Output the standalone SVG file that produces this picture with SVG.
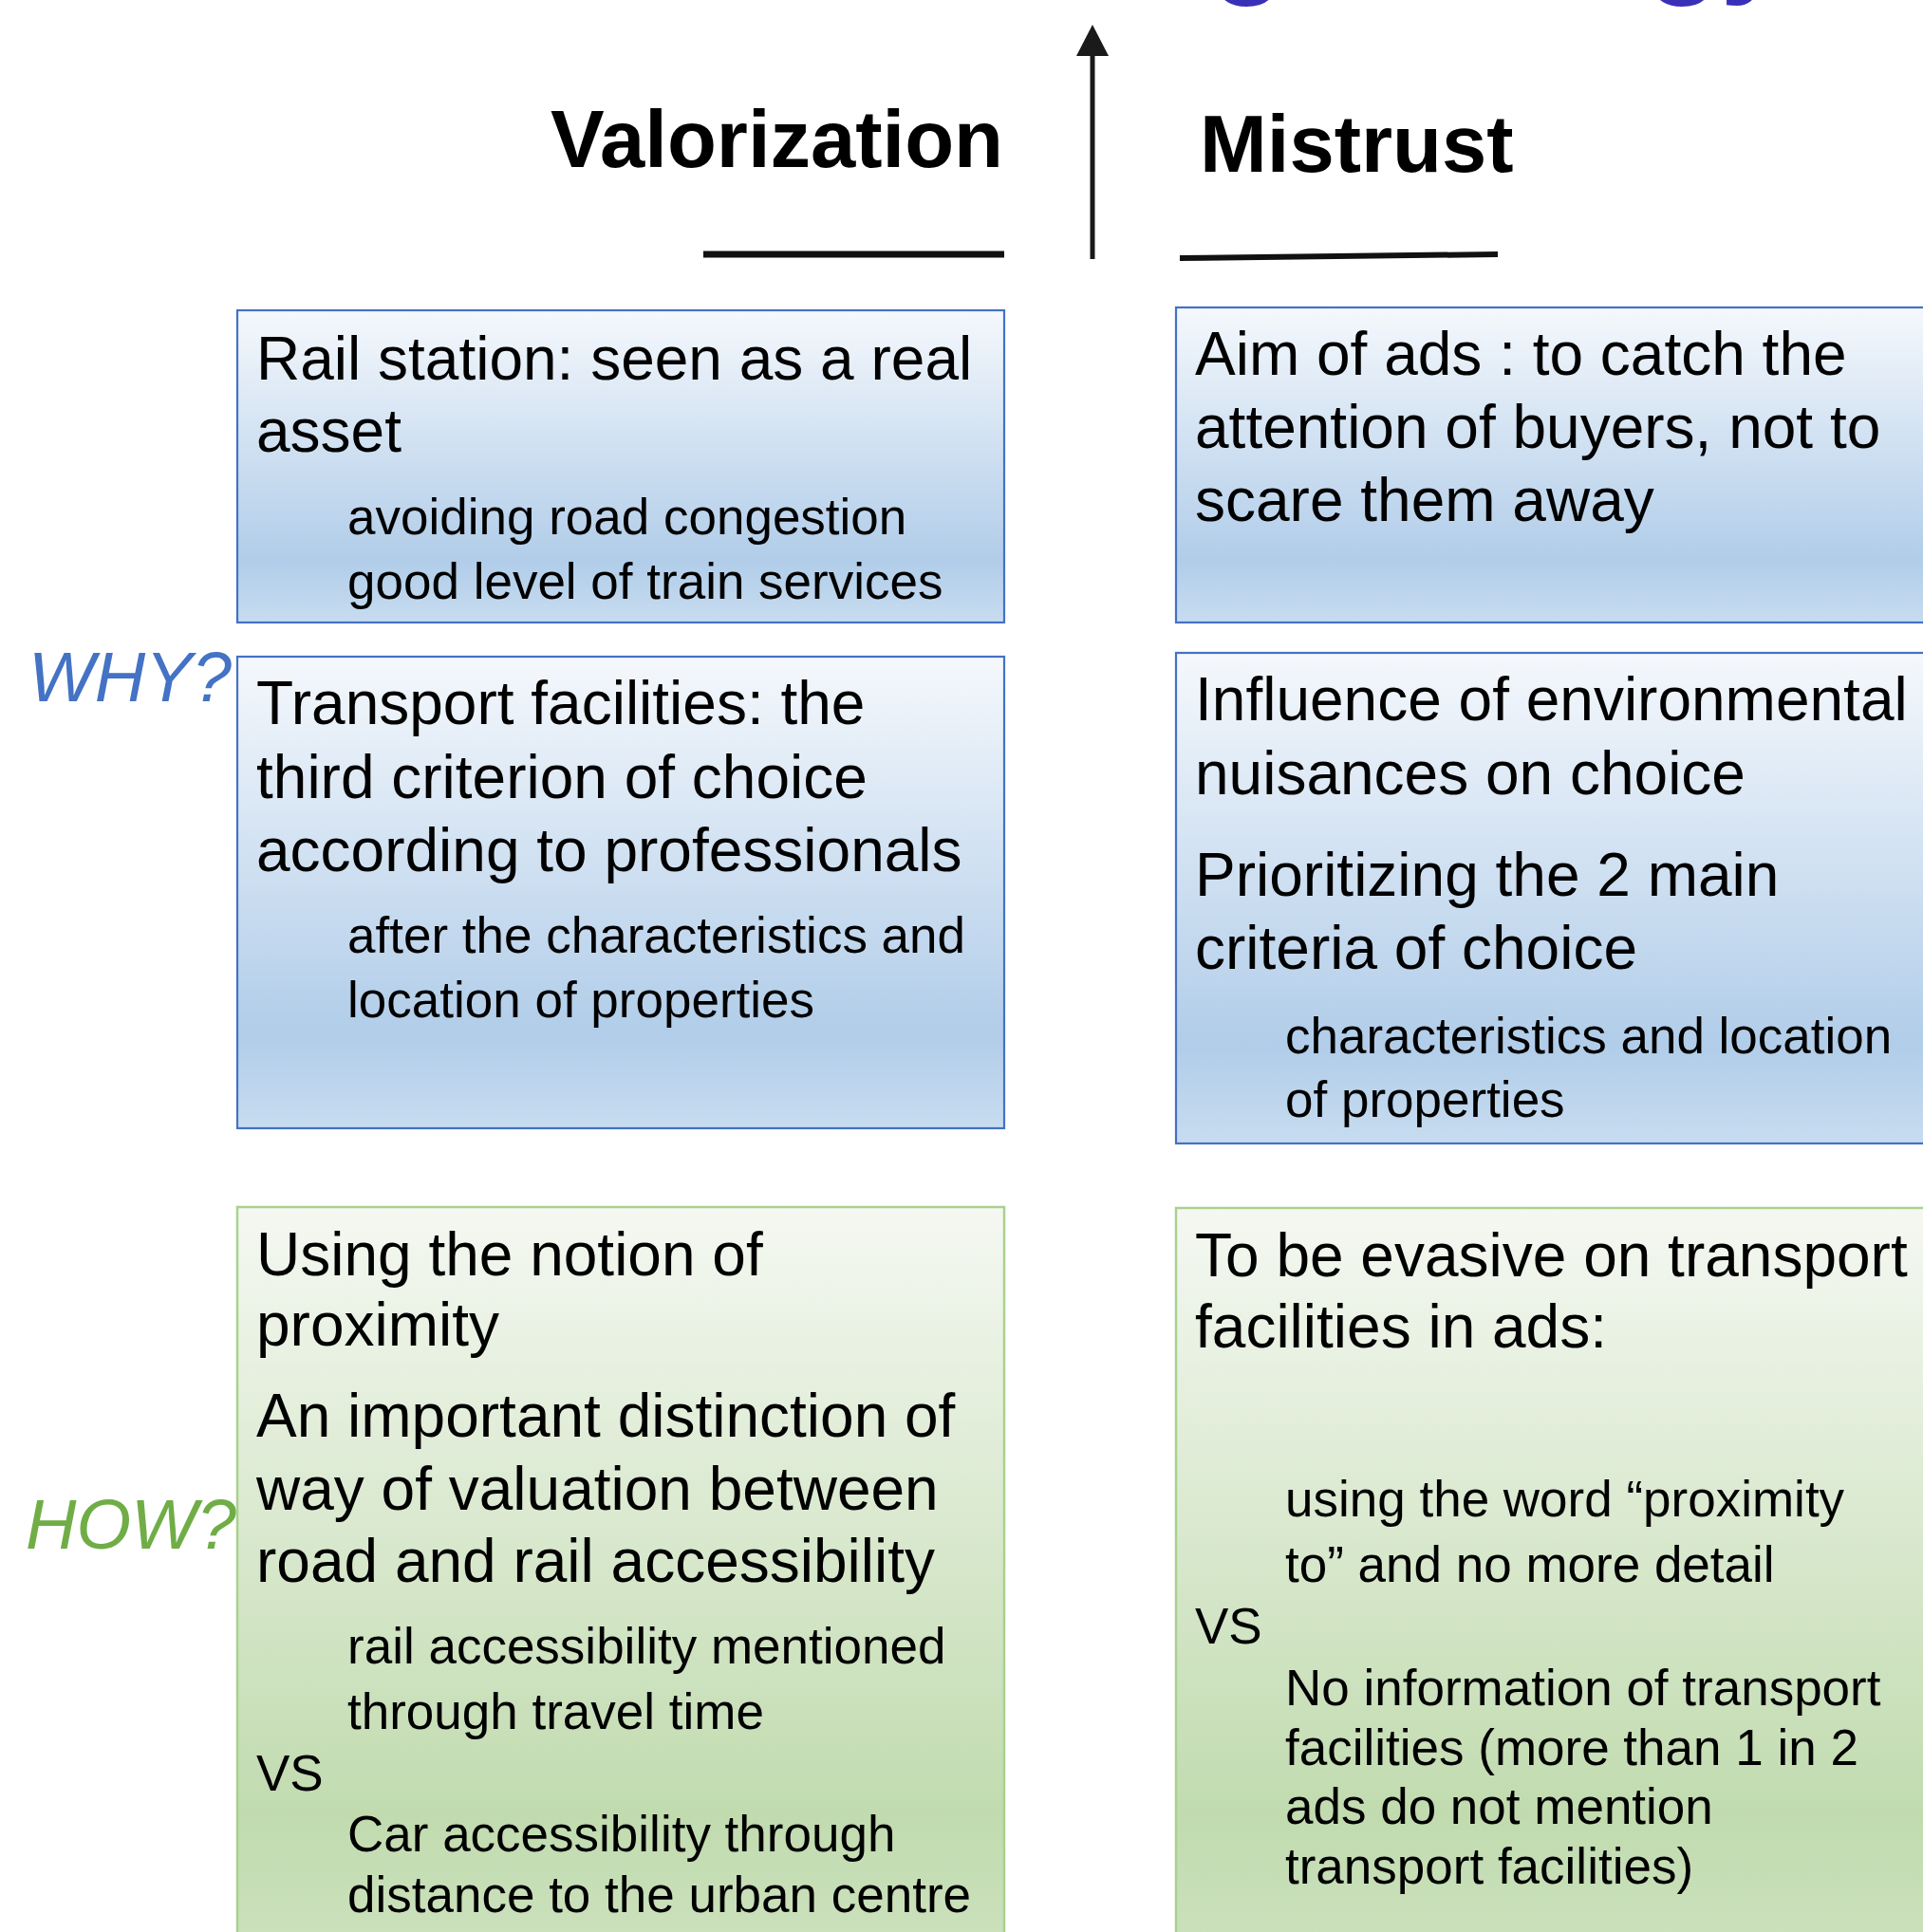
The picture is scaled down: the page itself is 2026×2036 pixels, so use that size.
<svg xmlns="http://www.w3.org/2000/svg" width="2026" height="2036" viewBox="0 0 2026 2036">
<defs>
<linearGradient id="gBlue" x1="0" y1="0" x2="0" y2="1">
<stop offset="0" stop-color="#f5f8fc"/>
<stop offset="0.8" stop-color="#b1cde9"/>
<stop offset="1" stop-color="#c7dcf0"/>
</linearGradient>
<linearGradient id="gGreen" x1="0" y1="0" x2="0" y2="1">
<stop offset="0" stop-color="#f5f8f2"/>
<stop offset="0.8" stop-color="#c1dbaf"/>
<stop offset="1" stop-color="#cde2bf"/>
</linearGradient>
<marker id="ah" viewBox="0 0 33 34" refX="0" refY="17" markerUnits="userSpaceOnUse" markerWidth="33" markerHeight="34" orient="auto">
<path d="M0,0 L33,17 L0,34 Z" fill="#1a1a1a"/>
</marker>
<style>
.t{font-family:"Liberation Sans",Arial,sans-serif;fill:#000}
.m{font-size:64px}
.s{font-size:53px}
.h{font-size:85px;font-weight:bold}
.bb{fill:url(#gBlue);stroke:#4472c4;stroke-width:2.2}
.gb{fill:url(#gGreen);stroke:#a9d18e;stroke-width:2.5}
.q{font-family:"Liberation Sans",Arial,sans-serif;font-size:74px;font-style:italic}
</style>
</defs>
<rect width="2026" height="2036" fill="#fff"/>

<g id="title">
<text class="t" x="754" y="-20" style="font-size:127px;font-weight:bold;fill:#3a30b8">Marketing strategy</text>
</g>

<g id="heading-valorization">
<text class="t h" x="580" y="176">Valorization</text>
<line x1="741" y1="268" x2="1058" y2="268" stroke="#111" stroke-width="7"/>
</g>
<g id="heading-mistrust">
<text class="t h" x="1264" y="181">Mistrust</text>
<line x1="1243" y1="272" x2="1578" y2="268" stroke="#111" stroke-width="6"/>
</g>

<g id="connectors">
<line x1="1151" y1="273" x2="1151" y2="59" stroke="#1a1a1a" stroke-width="5" marker-end="url(#ah)"/>
</g>

<g id="label-why">
<text class="q" x="30" y="739" fill="#4472c4">WHY?</text>
</g>
<g id="label-how">
<text class="q" x="27" y="1632" fill="#70ad47">HOW?</text>
</g>

<g id="box-rail-station">
<rect class="bb" x="250" y="327" width="808" height="329"/>
<text class="t m" x="270" y="400">Rail station: seen as a real</text>
<text class="t m" x="270" y="476">asset</text>
<text class="t s" x="366" y="563">avoiding road congestion</text>
<text class="t s" x="366" y="631">good level of train services</text>
</g>

<g id="box-transport-facilities">
<rect class="bb" x="250" y="692" width="808" height="497"/>
<text class="t m" x="270" y="763">Transport facilities: the</text>
<text class="t m" x="270" y="841">third criterion of choice</text>
<text class="t m" x="270" y="918">according to professionals</text>
<text class="t s" x="366" y="1004">after the characteristics and</text>
<text class="t s" x="366" y="1072">location of properties</text>
</g>

<g id="box-proximity">
<rect class="gb" x="250" y="1272" width="808" height="800"/>
<text class="t m" x="270" y="1344">Using the notion of</text>
<text class="t m" x="270" y="1418">proximity</text>
<text class="t m" x="270" y="1514">An important distinction of</text>
<text class="t m" x="270" y="1591">way of valuation between</text>
<text class="t m" x="270" y="1667">road and rail accessibility</text>
<text class="t s" x="366" y="1753">rail accessibility mentioned</text>
<text class="t s" x="366" y="1822">through travel time</text>
<text class="t s" x="270" y="1887">VS</text>
<text class="t s" x="366" y="1951">Car accessibility through</text>
<text class="t s" x="366" y="2015">distance to the urban centre</text>
</g>

<g id="box-aim-of-ads">
<rect class="bb" x="1239" y="324" width="820" height="332"/>
<text class="t m" x="1259" y="395">Aim of ads : to catch the</text>
<text class="t m" x="1259" y="472">attention of buyers, not to</text>
<text class="t m" x="1259" y="549">scare them away</text>
</g>

<g id="box-environmental">
<rect class="bb" x="1239" y="688" width="820" height="517"/>
<text class="t m" x="1259" y="759">Influence of environmental</text>
<text class="t m" x="1259" y="837">nuisances on choice</text>
<text class="t m" x="1259" y="944">Prioritizing the 2 main</text>
<text class="t m" x="1259" y="1021">criteria of choice</text>
<text class="t s" x="1354" y="1110">characteristics and location</text>
<text class="t s" x="1354" y="1177">of properties</text>
</g>

<g id="box-evasive">
<rect class="gb" x="1239" y="1273" width="820" height="800"/>
<text class="t m" x="1259" y="1345">To be evasive on transport</text>
<text class="t m" x="1259" y="1420">facilities in ads:</text>
<text class="t s" x="1354" y="1598">using the word “proximity</text>
<text class="t s" x="1354" y="1667">to” and no more detail</text>
<text class="t s" x="1259" y="1732">VS</text>
<text class="t s" x="1354" y="1797">No information of transport</text>
<text class="t s" x="1354" y="1860">facilities (more than 1 in 2</text>
<text class="t s" x="1354" y="1922">ads do not mention</text>
<text class="t s" x="1354" y="1985">transport facilities)</text>
</g>
</svg>
